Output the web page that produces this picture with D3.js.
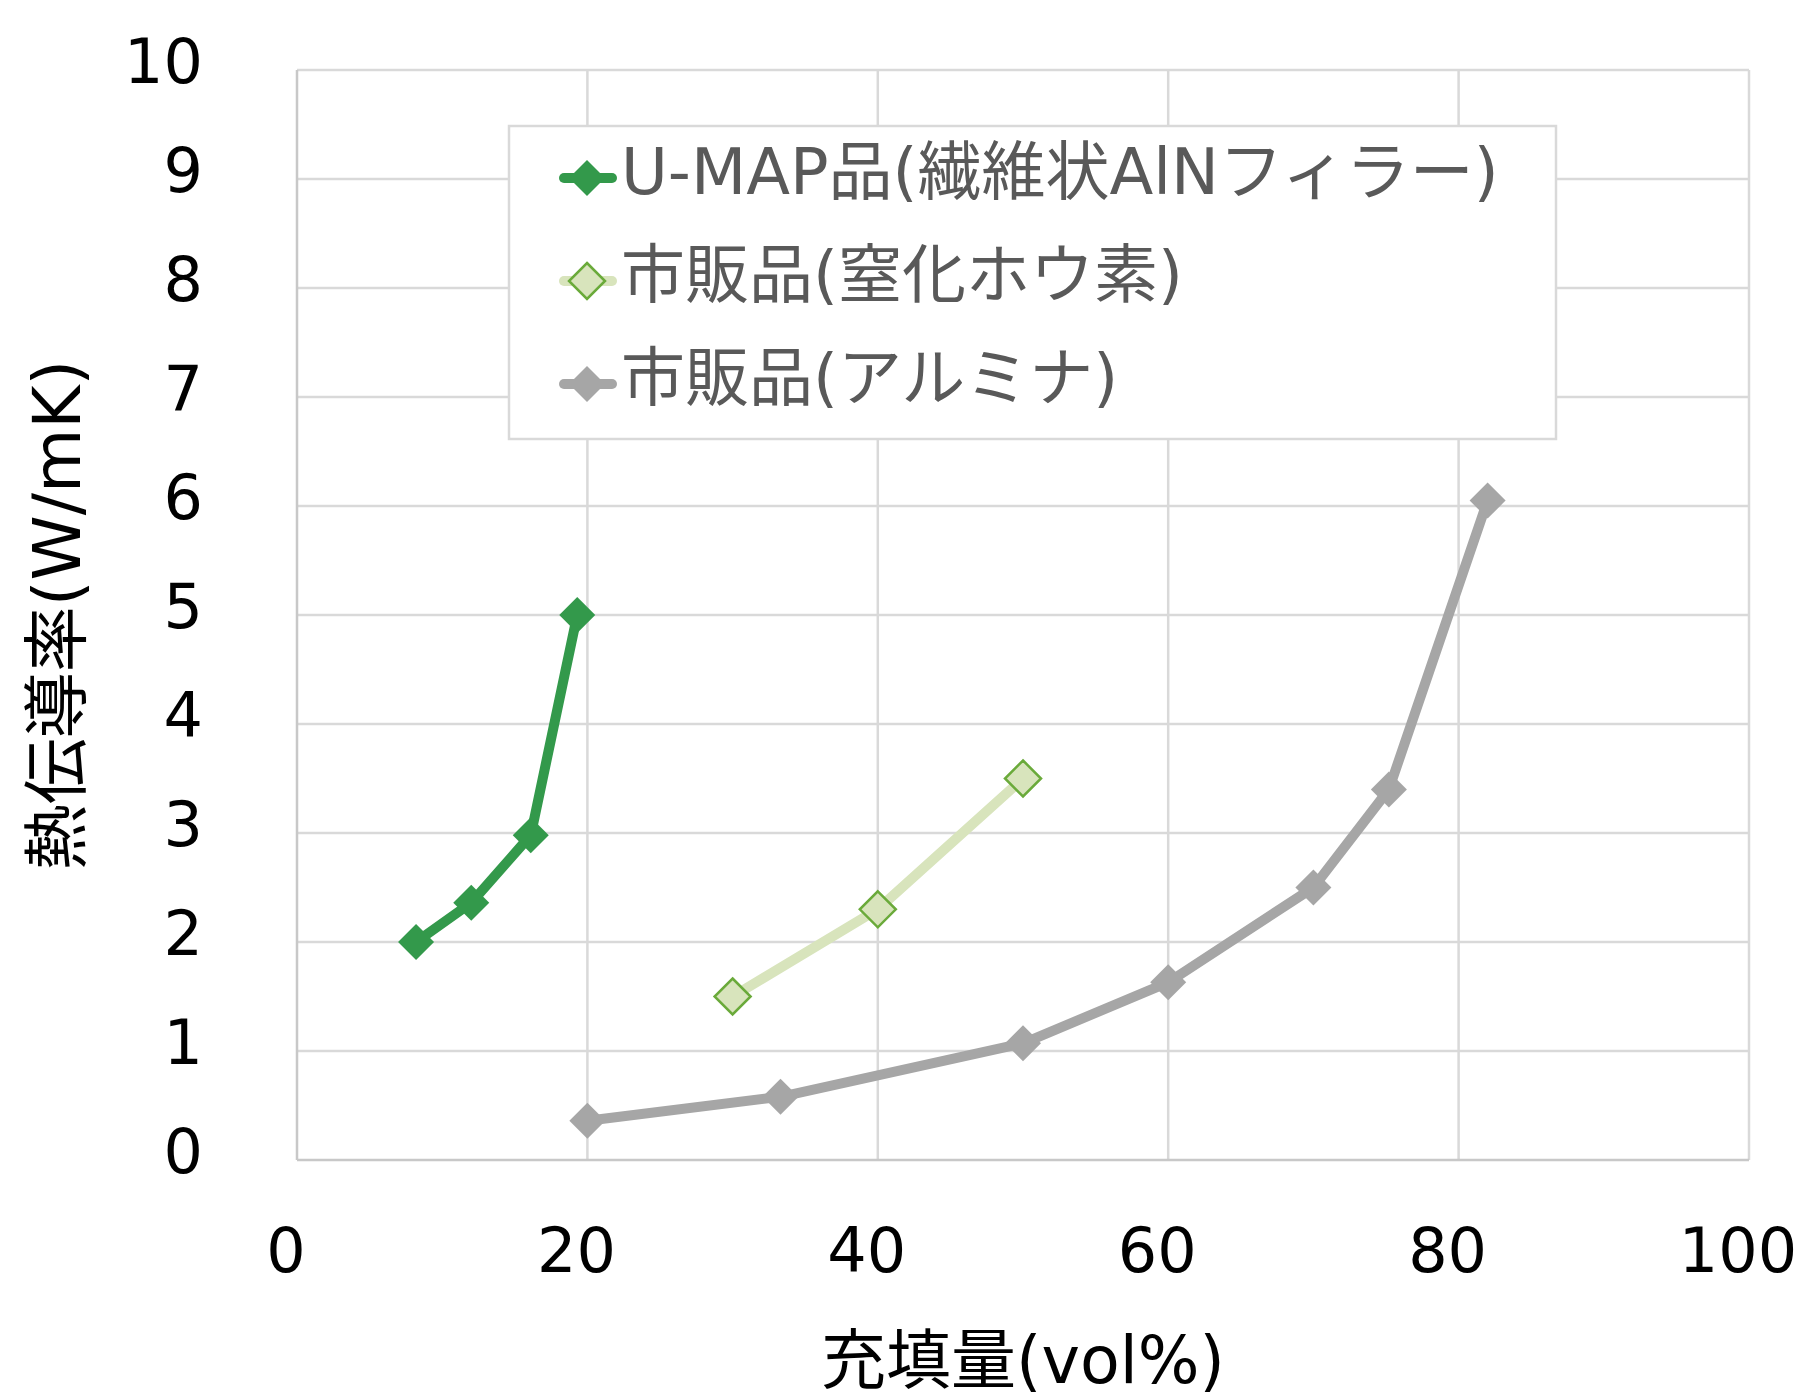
<!DOCTYPE html>
<html>
<head>
<meta charset="utf-8">
<script src="https://cdn.jsdelivr.net/npm/d3@7"></script>
<style>
  body { margin: 0; background: #fff; }
  svg { display: block; }
</style>
</head>
<body>
<div id="chart"></div>
<script>
// series data
const seriesNames = ["U-MAP品(繊維状AlNフィラー)", "市販品(窒化ホウ素)", "市販品(アルミナ)"];
const umapX = [8.2, 12.0, 16.1, 19.3];
const umapY = [2.0, 2.36, 2.98, 5.0];
const bnX = [30, 40, 50];
const bnY = [1.5, 2.3, 3.5];
const aluminaX = [20, 33.3, 50, 60, 70, 75.2, 82];
const aluminaY = [0.36, 0.58, 1.07, 1.63, 2.5, 3.4, 6.05];
const xTicks = [0, 20, 40, 60, 80, 100];
const yTicks = [0, 1, 2, 3, 4, 5, 6, 7, 8, 9, 10];

const W = 1801, H = 1400;
const PLOT = { LEFT: 297, RIGHT: 1749, TOP: 70, BOTTOM: 1160 };
const FONT = "'DejaVu Sans', 'Noto Sans CJK JP', sans-serif";

const svg = d3.select("#chart").append("svg")
  .attr("width", W).attr("height", H);

let x = d3.scaleLinear().domain([0, 100]).range([PLOT.LEFT, PLOT.RIGHT]);
let y = d3.scaleLinear().domain([0, 10]).range([PLOT.BOTTOM, PLOT.TOP]);

// gridlines
svg.append("g").selectAll("line.h")
  .data(yTicks.filter(d => d > 0))
  .enter().append("line")
  .attr("x1", PLOT.LEFT).attr("x2", PLOT.RIGHT)
  .attr("y1", d => y(d)).attr("y2", d => y(d))
  .attr("stroke", "#d9d9d9").attr("stroke-width", 2.5);

svg.append("g").selectAll("line.v")
  .data(xTicks.filter(d => d > 0))
  .enter().append("line")
  .attr("x1", d => x(d)).attr("x2", d => x(d))
  .attr("y1", PLOT.TOP).attr("y2", PLOT.BOTTOM)
  .attr("stroke", "#d9d9d9").attr("stroke-width", 2.5);

// axis lines
svg.append("line")
  .attr("x1", PLOT.LEFT).attr("x2", PLOT.LEFT)
  .attr("y1", PLOT.TOP).attr("y2", PLOT.BOTTOM)
  .attr("stroke", "#c8c8c8").attr("stroke-width", 2.5);
svg.append("line")
  .attr("x1", PLOT.LEFT).attr("x2", PLOT.RIGHT)
  .attr("y1", PLOT.BOTTOM).attr("y2", PLOT.BOTTOM)
  .attr("stroke", "#c8c8c8").attr("stroke-width", 2.5);

// tick labels
svg.append("g").selectAll("text")
  .data(yTicks)
  .enter().append("text")
  .attr("x", 203)
  .attr("y", d => y(d) + 13)
  .attr("text-anchor", "end")
  .attr("font-family", FONT).attr("font-size", 62)
  .attr("fill", "#000")
  .text(d => d);

svg.append("g").selectAll("text")
  .data(xTicks)
  .enter().append("text")
  .attr("x", d => x(d) - 11)
  .attr("y", 1272)
  .attr("text-anchor", "middle")
  .attr("font-family", FONT).attr("font-size", 62)
  .attr("fill", "#000")
  .text(d => d);

// axis titles
svg.append("text")
  .attr("x", (PLOT.LEFT + PLOT.RIGHT) / 2)
  .attr("y", 1383)
  .attr("text-anchor", "middle")
  .attr("font-family", FONT).attr("font-size", 65)
  .attr("fill", "#000")
  .text("充填量(vol%)");

svg.append("text")
  .attr("transform", "translate(80," + (PLOT.TOP + PLOT.BOTTOM) / 2 + ") rotate(-90)")
  .attr("text-anchor", "middle")
  .attr("font-family", FONT).attr("font-size", 66)
  .attr("fill", "#000")
  .text("熱伝導率(W/mK)");

// series
const series = [
  { name: seriesNames[0], xs: umapX, ys: umapY, line: "#33994b", fill: "#33994b", stroke: "none" },
  { name: seriesNames[1], xs: bnX, ys: bnY, line: "#d8e4bc", fill: "#d8e4bc", stroke: "#6aaa3a" },
  { name: seriesNames[2], xs: aluminaX, ys: aluminaY, line: "#a6a6a6", fill: "#a6a6a6", stroke: "none" }
];

const R = 18; // half diagonal of diamond markers
function diamond(cx, cy, r) {
  return "M" + cx + "," + (cy - r) + "L" + (cx + r) + "," + cy + "L" + cx + "," + (cy + r) + "L" + (cx - r) + "," + cy + "Z";
}

let line = d3.line().x(d => x(d[0])).y(d => y(d[1]));

series.forEach(s => {
  let pts = s.xs.map((v, i) => [v, s.ys[i]]);
  let g = svg.append("g");
  g.append("path")
    .attr("d", line(pts))
    .attr("fill", "none")
    .attr("stroke", s.line)
    .attr("stroke-width", 10)
    .attr("stroke-linejoin", "round");
  g.selectAll("path.m")
    .data(pts)
    .enter().append("path")
    .attr("d", d => diamond(x(d[0]), y(d[1]), R))
    .attr("fill", s.fill)
    .attr("stroke", s.stroke)
    .attr("stroke-width", 2.5);
});

// legend
const LEG = { x: 509, y: 126, w: 1047, h: 313 };
svg.append("rect")
  .attr("x", LEG.x).attr("y", LEG.y)
  .attr("width", LEG.w).attr("height", LEG.h)
  .attr("fill", "#fff")
  .attr("stroke", "#d9d9d9").attr("stroke-width", 2.5);

const legRows = [178, 281, 384];
series.forEach((s, i) => {
  let cy = legRows[i];
  let g = svg.append("g");
  g.append("line")
    .attr("x1", 564).attr("x2", 612)
    .attr("y1", cy).attr("y2", cy)
    .attr("stroke", s.line).attr("stroke-width", 10)
    .attr("stroke-linecap", "round");
  g.append("path")
    .attr("d", diamond(587, cy, R))
    .attr("fill", s.fill)
    .attr("stroke", s.stroke)
    .attr("stroke-width", 2.5);
  g.append("text")
    .attr("x", 621)
    .attr("y", cy + 16)
    .attr("font-family", FONT).attr("font-size", 64)
    .attr("fill", "#595959")
    .text(s.name);
});
</script>
</body>
</html>
